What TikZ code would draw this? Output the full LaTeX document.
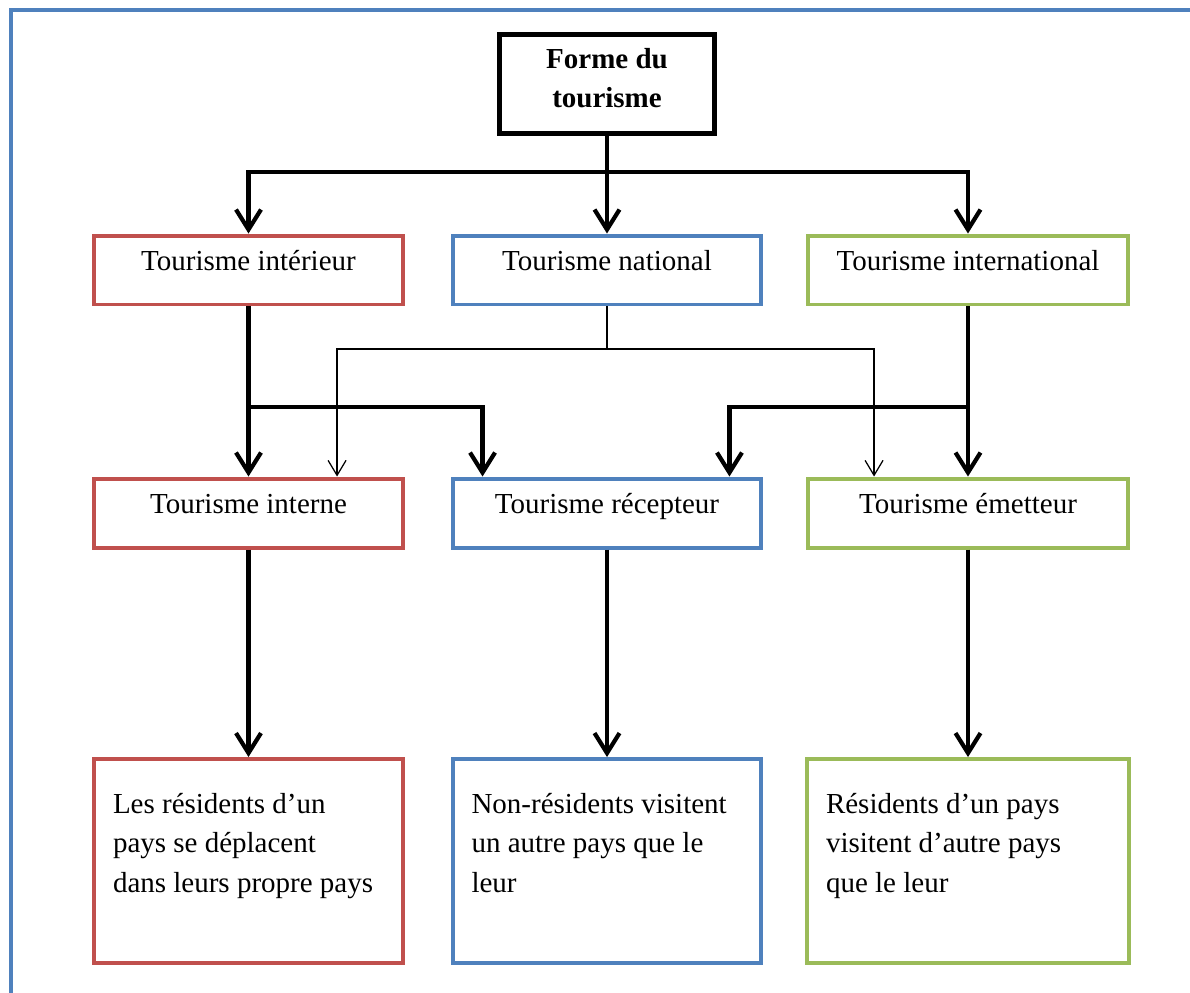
\documentclass[tikz,border=0pt]{standalone}
\usepackage{fontspec}
\setmainfont{Liberation Serif}
\usetikzlibrary{positioning, arrows.meta, calc}
\definecolor{redb}{HTML}{C0504D}
\definecolor{blueb}{HTML}{4F81BD}
\definecolor{greenb}{HTML}{9BBB59}

\begin{document}
\begin{tikzpicture}[x=0.02cm, y=-0.02cm, font=\fontsize{16.5}{22.4}\selectfont]
    \tikzstyle{top} = [draw, line width=2.8pt, minimum width=4.3cm, minimum height=1.98cm, align=center, font=\fontsize{16.5}{22.4}\selectfont\bfseries]
    \tikzstyle{kind} = [draw, line width=2.27pt, minimum width=6.18cm, inner ysep=0pt, text height=0.7cm, text depth=0.68cm]
    \tikzstyle{desc} = [draw, line width=2.27pt, inner xsep=0.38cm, inner ysep=0.54cm]
    \tikzstyle{thickline} = [line width=2.4pt]
    \tikzstyle{thickarrow} = [line width=2.4pt, -{Straight Barb[length=0.4cm,width=0.5cm]}]
    \tikzstyle{thinarrow} = [line width=0.7pt, -{Straight Barb[length=0.3cm,width=0.36cm]}]

    \useasboundingbox (0,0) rectangle (1190,992);

    % Frame (blue, left and top)
    \draw[blueb, line width=2.27pt] (11,1010) -- (11,10) -- (1210,10);

    % Root
    \node[top] (f0) at (607,84) {Forme du\\ tourisme\strut};

    % First row
    \node[kind, draw=redb] (a1) at (248.5,270) {Tourisme intérieur};
    \node[kind, draw=blueb] (a2) at (607,270) {Tourisme national};
    \node[kind, draw=greenb, minimum width=6.4cm] (a3) at (968,270) {Tourisme international};

    % Second row
    \node[kind, draw=redb] (b1) at (248.5,513) {Tourisme interne};
    \node[kind, draw=blueb] (b2) at (607,513) {Tourisme récepteur};
    \node[kind, draw=greenb, minimum width=6.4cm] (b3) at (968,513) {Tourisme émetteur};

    % Third row
    \node[desc, draw=redb] (c1) at (248.5,861) {\parbox[t][3.0cm][t]{5.42cm}{\raggedright\strut Les résidents d’un\\ pays se déplacent\\ dans leurs propre pays}};
    \node[desc, draw=blueb] (c2) at (607,861) {\parbox[t][3.0cm][t]{5.42cm}{\raggedright\strut Non-résidents visitent\\ un autre pays que le\\ leur}};
    \node[desc, draw=greenb] (c3) at (968,861) {\parbox[t][3.0cm][t]{5.68cm}{\raggedright\strut Résidents d’un pays\\ visitent d’autre pays\\ que le leur}};

    % Branch points
    \coordinate (hub) at (607,172);
    \coordinate (jl) at (248,407);
    \coordinate (tn) at (607,349);

    % Root to first row
    \draw[thickline] (f0.south) -- (f0.south |- hub);
    \draw[thickarrow] (f0.south |- hub) -| (a1.north);
    \draw[thickarrow] (f0.south) -- (a2.north);
    \draw[thickarrow] (f0.south |- hub) -| (a3.north);

    % First row to second row
    \draw[thickarrow] (a1) -- (b1);
    \draw[thickarrow] (a1.south |- jl) -| ($(b2.north west)+(32,0)$);
    \draw[thickarrow] (a3) -- (b3);
    \draw[thickarrow] (a3.south |- jl) -| ($(b2.north east)+(-34,0)$);
    \draw[line width=0.7pt] (a2.south) -- (a2.south |- tn);
    \draw[thinarrow] (a2.south |- tn) -| ($(b1.north west)+(245,0)$);
    \draw[thinarrow] (a2.south |- tn) -| ($(b3.north west)+(68,0)$);

    % Second row to third row
    \draw[thickarrow] (b1) -- (c1);
    \draw[thickarrow] (b2) -- (c2);
    \draw[thickarrow] (b3) -- (c3);
\end{tikzpicture}
\end{document}
